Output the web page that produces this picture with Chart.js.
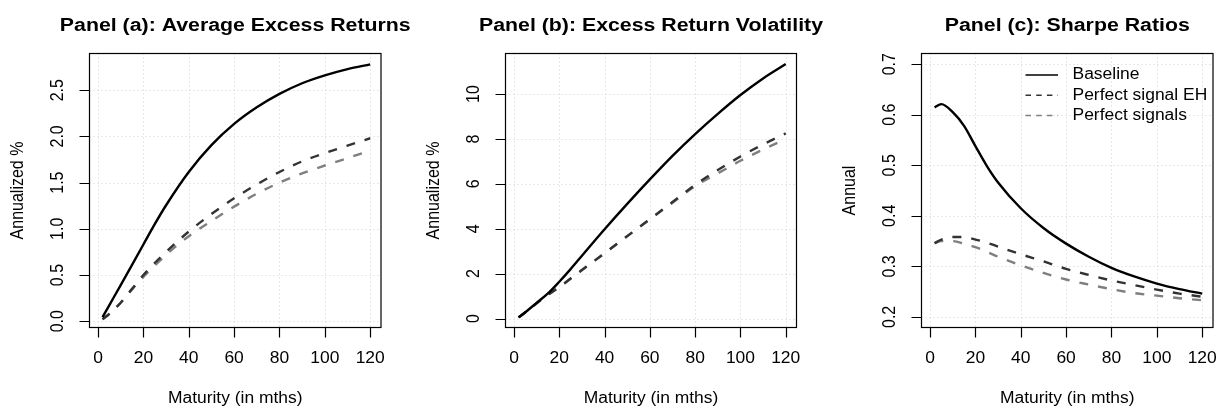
<!DOCTYPE html>
<html>
<head>
<meta charset="utf-8">
<script src="https://cdn.jsdelivr.net/npm/chart.js@4"></script>
<style>
html,body{margin:0;padding:0;background:#fff;overflow:hidden}
#wrap{position:relative;width:1217px;height:407px;background:#fff}
canvas{position:absolute;left:0;top:0}
</style>
</head>
<body>
<div id="wrap">
<canvas id="ca" width="1217" height="407"></canvas>
<canvas id="cb" width="1217" height="407"></canvas>
<canvas id="cc" width="1217" height="407"></canvas>
</div>
<script>
// ---------- data ----------
const maturities = [2,5,10,15,20,25,30,40,50,60,70,80,90,100,110,120];
const seriesNames = ['Baseline','Perfect signal EH','Perfect signals'];

const avgBaseline  = [0.045,0.175,0.39,0.61,0.83,1.05,1.255,1.615,1.905,2.135,2.315,2.46,2.575,2.66,2.728,2.78];
const avgPerfectEH = [0.02,0.08,0.20,0.35,0.50,0.63,0.75,0.97,1.16,1.33,1.48,1.615,1.73,1.82,1.90,1.98];
const avgPerfect   = [0.02,0.08,0.20,0.345,0.48,0.60,0.72,0.92,1.085,1.24,1.38,1.50,1.60,1.685,1.765,1.845];

const volBaseline  = [0.05,0.28,0.70,1.12,1.64,2.2,2.8,3.98,5.11,6.2,7.25,8.22,9.12,9.96,10.7,11.34];
const volPerfectEH = [0.05,0.28,0.68,1.06,1.40,1.78,2.16,2.91,3.67,4.43,5.19,5.96,6.62,7.22,7.76,8.25];
const volPerfect   = [0.05,0.28,0.68,1.06,1.40,1.78,2.16,2.91,3.67,4.42,5.16,5.90,6.47,7.03,7.53,8.0];

const srBaseline   = [0.6145,0.621,0.605,0.578,0.538,0.499,0.466,0.415,0.376,0.345,0.319,0.297,0.280,0.266,0.255,0.246];
const srPerfectEH  = [0.346,0.353,0.358,0.358,0.353,0.347,0.339,0.324,0.310,0.295,0.283,0.272,0.263,0.254,0.246,0.240];
const srPerfect    = [0.346,0.350,0.350,0.345,0.338,0.329,0.319,0.302,0.287,0.274,0.264,0.255,0.247,0.242,0.237,0.233];

const xTicks = [0,20,40,60,80,100,120];
const xTickLabels = ['0','20','40','60','80','100','120'];
const avgYTicks = [0,0.5,1,1.5,2,2.5];
const avgYTickLabels = ['0.0','0.5','1.0','1.5','2.0','2.5'];
const volYTicks = [0,2,4,6,8,10];
const volYTickLabels = ['0','2','4','6','8','10'];
const srYTicks = [0.2,0.3,0.4,0.5,0.6,0.7];
const srYTickLabels = ['0.2','0.3','0.4','0.5','0.6','0.7'];

const titles = ['Panel (a): Average Excess Returns','Panel (b): Excess Return Volatility','Panel (c): Sharpe Ratios'];
const xTitle = 'Maturity (in mths)';
const yTitles = ['Annualized %','Annualized %','Annual'];

// ---------- style ----------
const W = 1217, H = 407;
const FONT = '"Liberation Sans", Arial, Helvetica, sans-serif';
const colors = ['#000000','#333333','#7f7f7f'];
const dashes = [[], [9,10], [9,10]];
const LW = 2.4;
const SX = 1.09;      // horizontal stretch of text in the reference
const SX_TITLE = 1.11;

function pts(ys){ return maturities.map((m,i)=>({x:m, y:ys[i]})); }

function hText(ctx, s, x, y, sx){
  ctx.save();
  ctx.translate(x, y);
  ctx.scale(sx, 1);
  ctx.fillText(s, 0, 0);
  ctx.restore();
}
function vText(ctx, s, x, y, sx){
  ctx.save();
  ctx.translate(x, y);
  ctx.rotate(-Math.PI/2);
  ctx.scale(1, sx);
  ctx.fillText(s, 0, 0);
  ctx.restore();
}

const panelPlugin = {
  id:'rpanel',
  beforeDatasetsDraw(chart){
    const o = chart.options.plugins.rpanel;
    const {ctx, chartArea:a, scales:{x,y}} = chart;
    ctx.save();
    ctx.strokeStyle = '#d3d3d3';
    ctx.lineWidth = 1;
    ctx.setLineDash([1,3]);
    o.xTicks.forEach(v=>{
      const px = Math.round(x.getPixelForValue(v))+0.5;
      ctx.beginPath(); ctx.moveTo(px,a.top); ctx.lineTo(px,a.bottom); ctx.stroke();
    });
    o.yTicks.forEach(v=>{
      const py = Math.round(y.getPixelForValue(v))+0.5;
      ctx.beginPath(); ctx.moveTo(a.left,py); ctx.lineTo(a.right,py); ctx.stroke();
    });
    ctx.restore();
  },
  afterDraw(chart){
    const o = chart.options.plugins.rpanel;
    const {ctx, chartArea:a, scales:{x,y}} = chart;
    ctx.save();
    ctx.setLineDash([]);
    ctx.strokeStyle = '#000';
    ctx.lineWidth = 1.2;
    ctx.strokeRect(a.left, a.top, a.right-a.left, a.bottom-a.top);
    ctx.beginPath();
    o.xTicks.forEach(v=>{
      const px = Math.round(x.getPixelForValue(v))+0.5;
      ctx.moveTo(px,a.bottom); ctx.lineTo(px,a.bottom+10);
    });
    o.yTicks.forEach(v=>{
      const py = Math.round(y.getPixelForValue(v))+0.5;
      ctx.moveTo(a.left,py); ctx.lineTo(a.left-10,py);
    });
    ctx.stroke();
    ctx.fillStyle = '#000';
    ctx.font = '16px ' + FONT;
    ctx.textAlign = 'center';
    ctx.textBaseline = 'middle';
    o.xTicks.forEach((v,i)=>{
      hText(ctx, o.xTickLabels[i], x.getPixelForValue(v), 358.5, SX);
    });
    o.yTicks.forEach((v,i)=>{
      vText(ctx, o.yTickLabels[i], a.left-31, y.getPixelForValue(v), SX);
    });
    hText(ctx, o.xTitle, (a.left+a.right)/2, 398.5, SX);
    vText(ctx, o.yTitle, a.left-71, (a.top+a.bottom)/2, SX);
    ctx.font = 'bold 19.2px ' + FONT;
    ctx.textBaseline = 'alphabetic';
    hText(ctx, o.title, (a.left+a.right)/2, 31, SX_TITLE);
    if (o.legend) {
      const ds = chart.data.datasets;
      const rows = [75, 95.3, 115.5];
      ctx.font = '16px ' + FONT;
      ctx.textAlign = 'left';
      ctx.textBaseline = 'middle';
      ds.forEach((d,i)=>{
        ctx.save();
        ctx.strokeStyle = d.borderColor;
        ctx.lineWidth = 1.4;
        ctx.setLineDash(d.borderDash.length ? [5.5,5.2] : []);
        ctx.beginPath();
        ctx.moveTo(1025.5, rows[i]); ctx.lineTo(1058, rows[i]);
        ctx.stroke();
        ctx.restore();
        ctx.fillStyle = '#000';
        hText(ctx, d.label, 1072.5, rows[i], SX);
      });
    }
    ctx.restore();
  }
};

function makePanel(id, box, yMin, yMax, series, yTicks, yTickLabels, idx, legend){
  const datasets = series.map((s,i)=>({
    label: seriesNames[i],
    data: pts(s),
    borderColor: colors[i],
    borderWidth: LW,
    borderDash: dashes[i],
    borderCapStyle: 'butt',
    pointRadius: 0,
    fill: false,
    cubicInterpolationMode: 'monotone'
  }));
  new Chart(document.getElementById(id), {
    type: 'line',
    data: { datasets },
    options: {
      responsive: false,
      animation: false,
      devicePixelRatio: 1,
      events: [],
      layout: { padding: { left: box.l, top: box.t, right: W-box.r, bottom: H-box.b } },
      scales: {
        x: { type:'linear', display:false, min:-3.76, max:124.76 },
        y: { type:'linear', display:false, min:yMin, max:yMax }
      },
      plugins: {
        legend: { display:false },
        title: { display:false },
        tooltip: { enabled:false },
        rpanel: {
          xTicks, xTickLabels, yTicks, yTickLabels,
          title: titles[idx], xTitle, yTitle: yTitles[idx], legend
        }
      }
    },
    plugins: [panelPlugin]
  });
}

makePanel('ca', {l:89.5, r:381, t:53.5, b:327.5}, -0.068, 2.897,
  [avgBaseline, avgPerfectEH, avgPerfect], avgYTicks, avgYTickLabels, 0, false);
makePanel('cb', {l:505.5, r:796.5, t:53.5, b:327.5}, -0.40, 11.81,
  [volBaseline, volPerfectEH, volPerfect], volYTicks, volYTickLabels, 1, false);
makePanel('cc', {l:921.5, r:1213, t:53.5, b:327.5}, 0.179, 0.7212,
  [srBaseline, srPerfectEH, srPerfect], srYTicks, srYTickLabels, 2, true);
</script>
</body>
</html>
